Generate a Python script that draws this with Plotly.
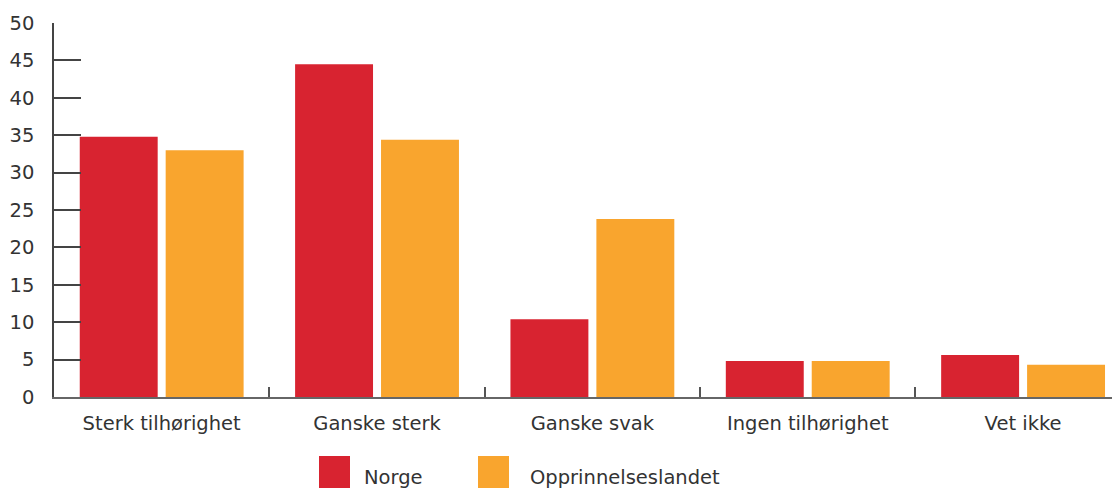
import plotly.graph_objects as go

categories = ["Sterk tilhørighet", "Ganske sterk", "Ganske svak", "Ingen tilhørighet", "Vet ikke"]
norge = [34.8, 44.5, 10.4, 4.8, 5.6]
opprinnelseslandet = [33.0, 34.4, 23.8, 4.8, 4.3]
series_names = ["Norge", "Opprinnelseslandet"]
colors = ["#D82330", "#F9A52E"]
y_ticks = [0, 5, 10, 15, 20, 25, 30, 35, 40, 45, 50]

# page body has an 8px margin: figure origin sits at (8, 8) on screen
OFF = 8
W, H = 1112, 480
L, R, T, B = 46, 0, 15, 91
FONT = "DejaVu Sans"
TXT = "#333333"
FS = 19.5

fig = go.Figure()
for name, vals, col in zip(series_names, [norge, opprinnelseslandet], colors):
    fig.add_trace(go.Bar(x=categories, y=vals, name=name, marker=dict(color=col, line=dict(width=0)),
                         showlegend=False))

fig.update_layout(
    width=W, height=H,
    margin=dict(l=L, r=R, t=T, b=B, autoexpand=False),
    plot_bgcolor="white", paper_bgcolor="white",
    barmode="group", bargap=0.202, bargroupgap=0.093,
    font=dict(family=FONT, size=FS, color=TXT),
)
fig.update_xaxes(
    range=[-0.5, 4.45], showline=True, linecolor="#666666", linewidth=1.5,
    ticks="inside", tickson="boundaries", ticklen=10, tickcolor="#555555", tickwidth=1.5,
    showgrid=False, ticklabelstandoff=8, tickfont=dict(size=FS, color=TXT, family=FONT),
)
fig.update_yaxes(
    range=[0, 50], tickvals=y_ticks, showline=True, linecolor="#444444", linewidth=1.5,
    ticks="inside", ticklen=27, tickcolor="#444444", tickwidth=1.5,
    showgrid=False, zeroline=False, ticklabelstandoff=14,
    tickfont=dict(size=FS, color=TXT, family=FONT),
)

plot_w = W - L - R
plot_h = H - T - B
def px_x(x):  # screen px -> paper
    return (x - OFF - L) / plot_w
def px_y(y):
    return (H - B - (y - OFF)) / plot_h

legend_items = [(319, 362, series_names[0], colors[0]), (478, 528, series_names[1], colors[1])]
for sx, tx, name, col in legend_items:
    fig.add_shape(type="rect", xref="paper", yref="paper",
                  x0=px_x(sx), x1=px_x(sx + 31), y0=px_y(456), y1=px_y(490),
                  fillcolor=col, line=dict(width=0), layer="above")
    fig.add_annotation(xref="paper", yref="paper", x=px_x(tx), y=px_y(477),
                       xanchor="left", yanchor="middle", text=name, showarrow=False,
                       font=dict(size=FS, color=TXT, family=FONT))

fig.write_html("out.html")
